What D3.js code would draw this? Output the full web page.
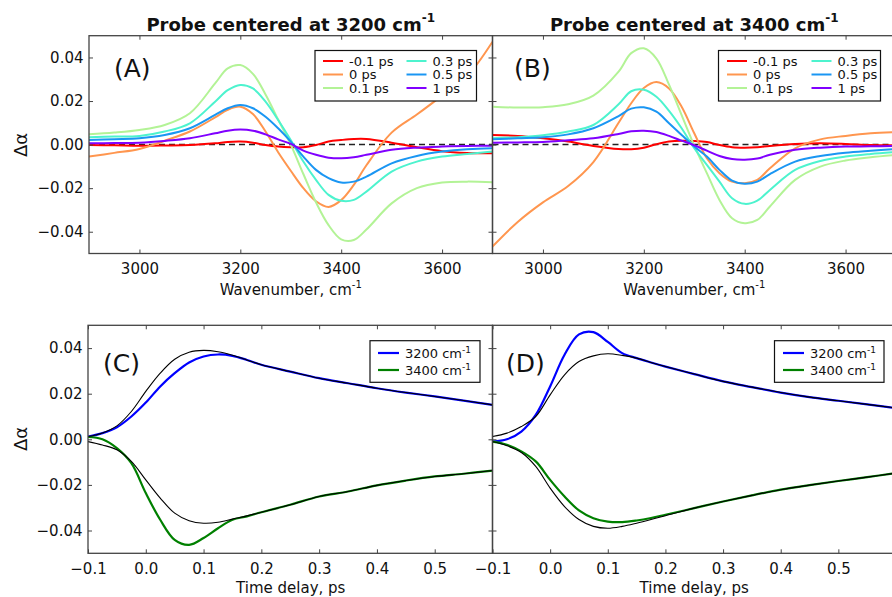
<!DOCTYPE html>
<html><head><meta charset="utf-8">
<script src="https://cdn.jsdelivr.net/npm/d3@7"></script>
<style>
body{margin:0;background:#fff}
svg{display:block}
text{font-family:"DejaVu Sans",sans-serif;fill:#111}
</style></head>
<body><svg id="c" width="892" height="597"></svg>
<script>
// ---------- data ----------
const wavenumbers = [2900,2950,3000,3050,3100,3150,3175,3200,3225,3250,3275,3300,3325,3350,3375,3400,3425,3450,3500,3550,3600,3650,3700];
const delayLabels = ["-0.1 ps","0 ps","0.1 ps","0.3 ps","0.5 ps","1 ps"];
const delayColors = ["#ff0000","#ff964f","#b3f396","#4df3ce","#1a96f3","#8000ff"];

// Panel A: probe centered at 3200 cm-1
const A_m01 = [-0.0002,-0.0003,-0.0005,-0.0004,-0.0002,0.0006,0.0012,0.0014,0.0009,-0.0002,-0.0009,-0.0012,-0.0012,-0.0002,0.0014,0.0021,0.0026,0.0026,0.0009,-0.0012,-0.0030,-0.0038,-0.0040];
const A_0   = [-0.0055,-0.0038,-0.0020,0.0018,0.0060,0.0125,0.0160,0.0174,0.0140,0.0060,-0.0035,-0.0120,-0.0200,-0.0260,-0.0286,-0.0255,-0.0185,-0.0095,0.0055,0.0138,0.0225,0.0315,0.0472];
const A_01  = [0.0047,0.0055,0.0067,0.0090,0.0144,0.0281,0.0350,0.0365,0.0325,0.0230,0.0115,0.0000,-0.0135,-0.0265,-0.0370,-0.0435,-0.0438,-0.0390,-0.0270,-0.0200,-0.0174,-0.0170,-0.0173];
const A_03  = [0.0034,0.0037,0.0040,0.0060,0.0098,0.0197,0.0250,0.0274,0.0258,0.0197,0.0113,0.0021,-0.0078,-0.0162,-0.0231,-0.0258,-0.0254,-0.0216,-0.0124,-0.0078,-0.0055,-0.0043,-0.0032];
const A_05  = [0.0021,0.0025,0.0029,0.0044,0.0075,0.0136,0.0167,0.0182,0.0167,0.0128,0.0075,0.0014,-0.0055,-0.0116,-0.0154,-0.0174,-0.0170,-0.0147,-0.0086,-0.0052,-0.0032,-0.0021,-0.0017];
const A_1   = [0.0006,0.0007,0.0009,0.0017,0.0029,0.0052,0.0064,0.0069,0.0064,0.0047,0.0024,0.0003,-0.0028,-0.0047,-0.0060,-0.0063,-0.0058,-0.0047,-0.0024,-0.0014,-0.0009,-0.0006,-0.0005];

// Panel B: probe centered at 3400 cm-1
const B_m01 = [0.0044,0.0040,0.0029,0.0014,-0.0006,-0.0020,-0.0021,-0.0014,0.0002,0.0014,0.0018,0.0017,0.0012,-0.0002,-0.0012,-0.0014,-0.0012,-0.0006,0.0003,0.0006,0.0003,-0.0002,-0.0003];
const B_0   = [-0.0468,-0.0355,-0.0265,-0.0190,-0.0080,0.0100,0.0190,0.0260,0.0287,0.0258,0.0174,0.0052,-0.0063,-0.0131,-0.0170,-0.0177,-0.0162,-0.0109,-0.0017,0.0024,0.0040,0.0052,0.0058];
const B_01  = [0.0174,0.0170,0.0172,0.0185,0.0225,0.0335,0.0420,0.0442,0.0395,0.0275,0.0135,-0.0005,-0.0131,-0.0254,-0.0338,-0.0361,-0.0346,-0.0284,-0.0162,-0.0101,-0.0073,-0.0058,-0.0047];
const B_03  = [0.0029,0.0034,0.0043,0.0060,0.0090,0.0185,0.0245,0.0252,0.0220,0.0155,0.0075,-0.0017,-0.0093,-0.0170,-0.0246,-0.0272,-0.0257,-0.0208,-0.0116,-0.0075,-0.0055,-0.0043,-0.0034];
const B_05  = [0.0024,0.0029,0.0034,0.0047,0.0075,0.0131,0.0165,0.0171,0.0151,0.0098,0.0044,-0.0009,-0.0055,-0.0116,-0.0165,-0.0180,-0.0170,-0.0135,-0.0078,-0.0052,-0.0037,-0.0028,-0.0020];
const B_1   = [0.0009,0.0010,0.0012,0.0020,0.0029,0.0049,0.0061,0.0064,0.0058,0.0040,0.0018,-0.0003,-0.0028,-0.0052,-0.0066,-0.0069,-0.0064,-0.0047,-0.0024,-0.0014,-0.0009,-0.0008,-0.0006];

// Kinetics
const timeDelays = [-0.1,-0.075,-0.05,-0.025,0,0.025,0.05,0.075,0.1,0.125,0.15,0.175,0.2,0.25,0.3,0.35,0.4,0.45,0.5,0.55,0.6];
const C_3200 = [0.0012,0.0027,0.0053,0.0100,0.0161,0.0232,0.0290,0.0337,0.0363,0.0372,0.0366,0.0348,0.0327,0.0297,0.0268,0.0246,0.0224,0.0205,0.0188,0.0170,0.0151];
const C_3200fit = [0.0012,0.0028,0.0059,0.0122,0.0210,0.0290,0.0351,0.0382,0.0390,0.0384,0.0369,0.0348,0.0327,0.0297,0.0268,0.0246,0.0224,0.0205,0.0188,0.0170,0.0151];
const C_3400 = [0.0010,0.0000,-0.0039,-0.0105,-0.0236,-0.0353,-0.0441,-0.0463,-0.0433,-0.0390,-0.0353,-0.0338,-0.0320,-0.0287,-0.0251,-0.0229,-0.0202,-0.0181,-0.0163,-0.0151,-0.0137];
const C_3400fit = [-0.0010,-0.0025,-0.0046,-0.0097,-0.0178,-0.0258,-0.0324,-0.0357,-0.0368,-0.0364,-0.0350,-0.0336,-0.0320,-0.0287,-0.0251,-0.0229,-0.0202,-0.0181,-0.0163,-0.0151,-0.0137];
const D_3200 = [-0.0010,0.0000,0.0034,0.0107,0.0232,0.0371,0.0460,0.0470,0.0427,0.0378,0.0356,0.0337,0.0319,0.0286,0.0254,0.0229,0.0205,0.0185,0.0169,0.0153,0.0137];
const D_3200fit = [0.0012,0.0027,0.0056,0.0100,0.0195,0.0283,0.0341,0.0366,0.0375,0.0368,0.0356,0.0337,0.0319,0.0286,0.0254,0.0229,0.0205,0.0185,0.0169,0.0153,0.0137];
const D_3400 = [-0.0010,-0.0024,-0.0053,-0.0097,-0.0178,-0.0251,-0.0312,-0.0346,-0.0361,-0.0363,-0.0356,-0.0345,-0.0331,-0.0302,-0.0273,-0.0246,-0.0221,-0.0201,-0.0183,-0.0166,-0.0148];
const D_3400fit = [-0.0010,-0.0028,-0.0058,-0.0119,-0.0214,-0.0295,-0.0352,-0.0382,-0.0390,-0.0382,-0.0368,-0.0352,-0.0335,-0.0302,-0.0273,-0.0246,-0.0221,-0.0201,-0.0183,-0.0166,-0.0148];

const wnTicks = [3000,3200,3400,3600];
const valTicks = [0.04,0.02,0.00,-0.02,-0.04];
const timeTicks = [-0.1,0.0,0.1,0.2,0.3,0.4,0.5];

// ---------- drawing ----------
const svg = d3.select("#c");
const FRAME = "#444";

function panel(cfg){
  const x = d3.scaleLinear().domain(cfg.xDomain).range([cfg.x0,cfg.x1]);
  const y = d3.scaleLinear().domain([-0.05,0.05]).range([cfg.y1,cfg.y0]);
  const g = svg.append("g");
  svg.append("clipPath").attr("id",cfg.id).append("rect")
    .attr("x",cfg.x0).attr("y",cfg.y0).attr("width",cfg.x1-cfg.x0).attr("height",cfg.y1-cfg.y0);
  const plot = g.append("g").attr("clip-path",`url(#${cfg.id})`);
  const axes = svg.append("g").attr("class","axes");
  const styleAxis = sel => { sel.select(".domain").remove(); sel.selectAll(".tick line").attr("stroke",FRAME).attr("stroke-width",1); sel.selectAll("text").attr("font-size",15).attr("fill","#111").attr("font-family","DejaVu Sans"); };
  axes.append("g").attr("transform",`translate(0,${cfg.y1})`)
    .call(d3.axisBottom(x).tickValues(cfg.xTicks).tickSize(-4).tickPadding(10).tickFormat(cfg.xFmt)).call(styleAxis);
  axes.append("g").attr("transform",`translate(0,${cfg.y0})`)
    .call(d3.axisTop(x).tickValues(cfg.xTicks).tickSize(-4).tickFormat("")).call(styleAxis);
  axes.append("g").attr("transform",`translate(${cfg.x0},0)`)
    .call(d3.axisLeft(y).tickValues(valTicks).tickSize(-4).tickPadding(5.5).tickFormat(cfg.showY ? d3.format(".2f") : "")).call(styleAxis);
  axes.append("g").attr("transform",`translate(${cfg.x1},0)`)
    .call(d3.axisRight(y).tickValues(valTicks).tickSize(-4).tickFormat("")).call(styleAxis);
  axes.append("rect").attr("x",cfg.x0).attr("y",cfg.y0).attr("width",cfg.x1-cfg.x0).attr("height",cfg.y1-cfg.y0)
    .attr("fill","none").attr("stroke",FRAME).attr("stroke-width",1.3);
  svg.append("text").attr("x",cfg.lx).attr("y",cfg.ly).attr("font-family","Open Sans").attr("font-size",25).text(cfg.label);
  return {x,y,plot,axes};
}

function drawLine(p, xs, ys, color, width){
  const line = d3.line().x((d,i)=>p.x(xs[i])).y(d=>p.y(d)).curve(d3.curveCatmullRom.alpha(0.5));
  p.plot.append("path").datum(ys).attr("d",line).attr("fill","none").attr("stroke",color).attr("stroke-width",width).attr("stroke-linejoin","round");
}

function supText(sel, main, sup, size, supSize, dy){
  sel.append("tspan").text(main);
  sel.append("tspan").attr("font-size",supSize).attr("dy",dy).text(sup);
}

// top panels
const topCfg = {y0:35.7,y1:253.5,xDomain:[2900,3700],xTicks:wnTicks,xFmt:d3.format("d")};
const pA = panel({...topCfg,id:"clipA",x0:89,x1:492.5,showY:true,label:"(A)",lx:114,ly:77});
const pB = panel({...topCfg,id:"clipB",x0:492.5,x1:896,showY:false,label:"(B)",lx:514,ly:77});

[[pA,[A_m01,A_0,A_01,A_03,A_05,A_1]],[pB,[B_m01,B_0,B_01,B_03,B_05,B_1]]].forEach(([p,series])=>{
  p.plot.append("line").attr("x1",p.x(2900)).attr("x2",p.x(3700)).attr("y1",p.y(0)).attr("y2",p.y(0))
    .attr("stroke","#222").attr("stroke-width",1.5).attr("stroke-dasharray","6,4");
  series.forEach((s,i)=>drawLine(p,wavenumbers,s,delayColors[i],2));
});

// bottom panels
const botCfg = {y0:325.3,y1:553.3,xDomain:[-0.1,0.6],xTicks:timeTicks,xFmt:d3.format(".1f")};
const pC = panel({...botCfg,id:"clipC",x0:88,x1:492.5,showY:true,label:"(C)",lx:103,ly:372});
const pD = panel({...botCfg,id:"clipD",x0:492.5,x1:896,showY:false,label:"(D)",lx:506,ly:372});
drawLine(pC,timeDelays,C_3200,"#0000ff",2.2);
drawLine(pC,timeDelays,C_3400,"#008000",2.2);
drawLine(pC,timeDelays,C_3200fit,"#000",1.1);
drawLine(pC,timeDelays,C_3400fit,"#000",1.1);
drawLine(pD,timeDelays,D_3200,"#0000ff",2.2);
drawLine(pD,timeDelays,D_3400,"#008000",2.2);
drawLine(pD,timeDelays,D_3200fit,"#000",1.1);
drawLine(pD,timeDelays,D_3400fit,"#000",1.1);

// legends
function legendDelays(bx,by,bw,bh,col1x,col2x){
  const g = svg.append("g");
  g.append("rect").attr("x",bx).attr("y",by).attr("width",bw).attr("height",bh).attr("fill","#fff").attr("stroke","#111").attr("stroke-width",1.2);
  const rows=[61,74.5,88];
  delayLabels.forEach((lab,i)=>{
    const cx = i<3?col1x:col2x, cy = rows[i%3];
    g.append("line").attr("x1",cx).attr("x2",cx+20).attr("y1",cy).attr("y2",cy).attr("stroke",delayColors[i]).attr("stroke-width",2);
    g.append("text").attr("x",cx+26).attr("y",cy).attr("dy","0.36em").attr("font-size",13).text(lab);
  });
}
legendDelays(315,50.5,161.5,50.5,323,406.5);
legendDelays(718.5,50.5,162,50.5,727,811.5);

const probeLabels = ["3200 cm","3400 cm"];
const probeColors = ["#0000ff","#008000"];
function legendProbe(bx,by,bw,bh,lx){
  const g = svg.append("g");
  g.append("rect").attr("x",bx).attr("y",by).attr("width",bw).attr("height",bh).attr("fill","#fff").attr("stroke","#111").attr("stroke-width",1.2);
  const rows=[353,370];
  probeLabels.forEach((lab,i)=>{
    g.append("line").attr("x1",lx).attr("x2",lx+21).attr("y1",rows[i]).attr("y2",rows[i]).attr("stroke",probeColors[i]).attr("stroke-width",2.2);
    const t = g.append("text").attr("x",lx+27).attr("y",rows[i]).attr("dy","0.36em").attr("font-size",13);
    supText(t,lab,"-1",13,9,-5);
  });
}
legendProbe(370,340.7,110,41.6,378);
legendProbe(774.5,340.7,109.5,41.6,783);

// titles
[["Probe centered at 3200 cm",290.75],["Probe centered at 3400 cm",694.25]].forEach(([t,cx])=>{
  const txt = svg.append("text").attr("x",cx).attr("y",30.5).attr("text-anchor","middle").attr("font-size",18).attr("font-weight","bold");
  supText(txt,t,"-1",18,12,-9);
});

// axis labels
[[290.75,295,"Wavenumber, cm",true],[694.25,295,"Wavenumber, cm",true],[290.75,592.5,"Time delay, ps",false],[694.25,592.5,"Time delay, ps",false]].forEach(([cx,cy,t,s])=>{
  const txt = svg.append("text").attr("x",cx).attr("y",cy).attr("text-anchor","middle").attr("font-size",15);
  if(s) supText(txt,t,"-1",15,10,-7); else txt.text(t);
});
[145,439].forEach(cy=>{
  svg.append("text").attr("transform",`translate(27,${cy}) rotate(-90)`).attr("text-anchor","middle").attr("font-size",18).text("Δα");
});
</script></body></html>
